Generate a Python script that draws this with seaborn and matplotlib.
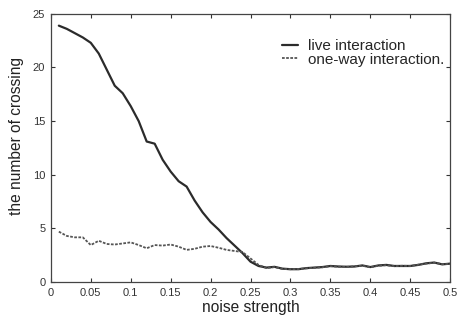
import numpy as np
import pandas as pd
import matplotlib
matplotlib.use("Agg")
import matplotlib.pyplot as plt
import seaborn as sns

noise = [0.01, 0.02, 0.03, 0.04, 0.05, 0.06, 0.07, 0.08, 0.09, 0.10,
         0.11, 0.12, 0.13, 0.14, 0.15, 0.16, 0.17, 0.18, 0.19, 0.20,
         0.21, 0.22, 0.23, 0.24, 0.25, 0.26, 0.27, 0.28, 0.29, 0.30,
         0.31, 0.32, 0.33, 0.34, 0.35, 0.36, 0.37, 0.38, 0.39, 0.40,
         0.41, 0.42, 0.43, 0.44, 0.45, 0.46, 0.47, 0.48, 0.49, 0.50]

live = [23.9, 23.6, 23.2, 22.8, 22.3, 21.3, 19.8, 18.3, 17.6, 16.4,
        15.0, 13.1, 12.9, 11.4, 10.3, 9.4, 8.9, 7.6, 6.5, 5.6,
        4.9, 4.1, 3.4, 2.7, 1.9, 1.5, 1.35, 1.42, 1.25, 1.2,
        1.2, 1.3, 1.35, 1.4, 1.5, 1.45, 1.43, 1.45, 1.55, 1.4,
        1.55, 1.6, 1.5, 1.5, 1.5, 1.6, 1.75, 1.82, 1.65, 1.72]

oneway = [4.7, 4.3, 4.17, 4.17, 3.45, 3.85, 3.55, 3.5, 3.6, 3.7,
          3.45, 3.15, 3.45, 3.4, 3.5, 3.3, 3.0, 3.1, 3.3, 3.36,
          3.2, 3.0, 2.9, 2.8, 2.2, 1.6, 1.3, 1.4, 1.22, 1.2,
          1.22, 1.28, 1.33, 1.38, 1.48, 1.43, 1.4, 1.47, 1.52, 1.38,
          1.52, 1.57, 1.48, 1.52, 1.5, 1.62, 1.72, 1.8, 1.67, 1.7]

df = pd.DataFrame({"noise": noise, "live": live, "oneway": oneway})

sns.set_style("ticks")
plt.rcParams["font.family"] = ["Liberation Sans", "DejaVu Sans"]

fig = plt.figure(figsize=(4.58, 3.22), dpi=100)
ax = fig.add_axes([0.111, 0.124, 0.872, 0.833])

sns.lineplot(data=df, x="noise", y="live", ax=ax, color="#2b2b2b",
             linewidth=1.6, label="live interaction")
sns.lineplot(data=df, x="noise", y="oneway", ax=ax, color="#555555",
             linewidth=1.3, linestyle=(0, (1.5, 0.8)),
             label="one-way interaction.")

ax.set_xlim(0, 0.5)
ax.set_ylim(0, 25)
ax.set_xticks(np.arange(0, 0.51, 0.05))
ax.set_xticklabels(["0", "0.05", "0.1", "0.15", "0.2", "0.25", "0.3",
                    "0.35", "0.4", "0.45", "0.5"])
ax.set_yticks([0, 5, 10, 15, 20, 25])
ax.tick_params(direction="in", top=True, right=True, length=3,
               labelsize=8, colors="#333333", width=0.8, pad=4)
for s in ax.spines.values():
    s.set_color("#444444")
    s.set_linewidth(0.9)

ax.set_xlabel("noise strength", fontsize=11.2, color="#222222", labelpad=2)
ax.set_ylabel("the number of crossing", fontsize=11.2, color="#222222")
ax.yaxis.set_label_coords(-0.068, 0.545)

leg = ax.legend(loc="upper left", bbox_to_anchor=(0.578, 0.905), frameon=False,
                fontsize=11, handlelength=1.1, handletextpad=0.6,
                labelspacing=-0.05, borderpad=0, borderaxespad=0)

fig.savefig("out.png", dpi=100)
